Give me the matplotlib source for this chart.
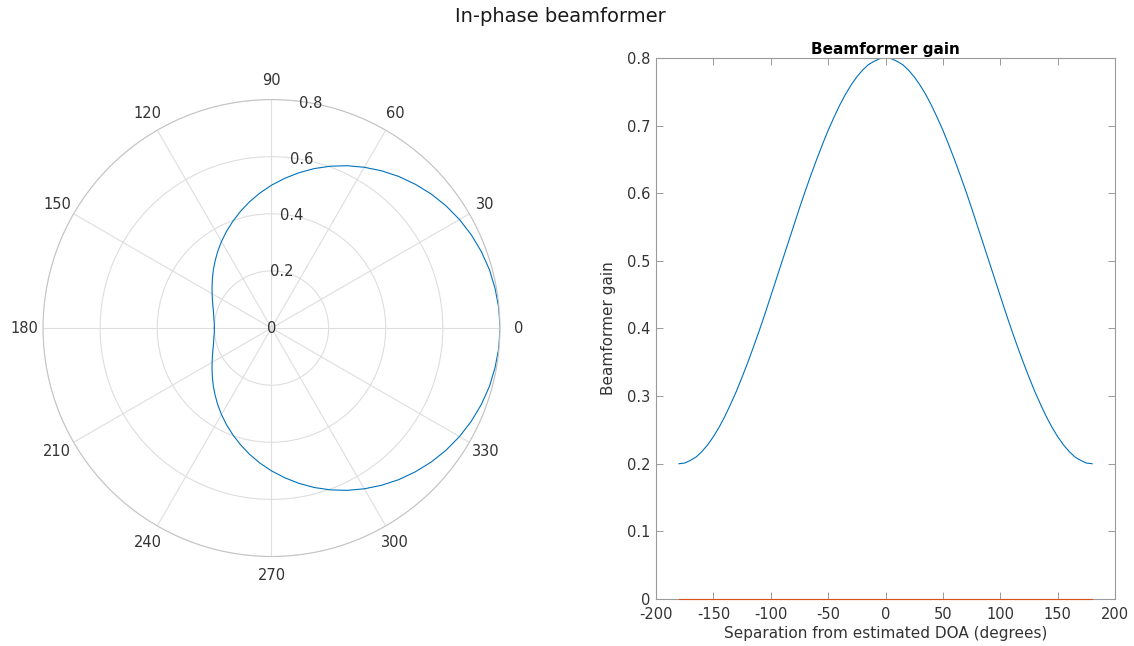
import numpy as np
import matplotlib
matplotlib.use("Agg")
import matplotlib.pyplot as plt

# gain, 0..180 degrees in 5 degree steps (symmetric)
angles_half = [0, 5, 10, 15, 20, 25, 30, 35, 40, 45, 50, 55, 60, 65, 70, 75, 80, 85, 90,
               95, 100, 105, 110, 115, 120, 125, 130, 135, 140, 145, 150, 155, 160, 165,
               170, 175, 180]
gain_half = [0.800, 0.799, 0.795, 0.790, 0.782, 0.772, 0.760, 0.746, 0.730, 0.712, 0.693,
             0.672, 0.650, 0.627, 0.603, 0.578, 0.552, 0.526, 0.500, 0.474, 0.448, 0.422,
             0.397, 0.373, 0.350, 0.328, 0.307, 0.288, 0.270, 0.254, 0.240, 0.228, 0.218,
             0.210, 0.205, 0.201, 0.200]

sep = [-a for a in angles_half[::-1]] + angles_half[1:]
gain = gain_half[::-1] + gain_half[1:]
zero_line = [0.0 for _ in sep]

r_ticks = [0, 0.2, 0.4, 0.6, 0.8]
r_labels = ["0", "0.2", "0.4", "0.6", "0.8"]
theta_ticks = list(range(0, 360, 30))
x_ticks = [-200, -150, -100, -50, 0, 50, 100, 150, 200]
y_ticks = [0, 0.1, 0.2, 0.3, 0.4, 0.5, 0.6, 0.7, 0.8]

line_col = "#0072BD"
line2_col = "#D95319"
txt_col = "#333333"
ax_col = "#9a9a9a"
plt.rcParams['font.family'] = 'DejaVu Sans'
plt.rcParams['font.size'] = 10
plt.rcParams['axes.unicode_minus'] = False

fig = plt.figure(figsize=(11.34, 6.46), dpi=100)
fig.text(0.494, 0.975, "In-phase beamformer", ha='center', va='center',
         fontsize=14, color='#1a1a1a')

# polar plot
axp = fig.add_axes([0.0379, 0.1385, 0.403, 0.7074], projection='polar')
axp.plot(np.deg2rad(sep), gain, color=line_col, lw=0.8)
axp.set_ylim(0, 0.8)
axp.set_yticks(r_ticks)
axp.set_yticklabels([])
for r, lab in zip(r_ticks, r_labels):
    axp.text(np.deg2rad(80), r, lab, ha='center', va='center', color=txt_col, fontsize=10.5)
axp.set_thetagrids(theta_ticks, [str(t) for t in theta_ticks], color=txt_col, fontsize=10.5)
axp.tick_params(axis='x', pad=3)
axp.grid(color="#dedede", lw=0.8)
axp.spines['polar'].set_color("#c4c4c4")

# cartesian plot
ax = fig.add_axes([0.5785, 0.0728, 0.4048, 0.8375])
ax.plot(sep, gain, color=line_col, lw=0.8)
ax.plot(sep, zero_line, color=line2_col, lw=0.8, zorder=5, clip_on=False)
ax.set_xlim(-200, 200)
ax.set_ylim(0, 0.8)
ax.set_xticks(x_ticks)
ax.set_yticks(y_ticks)
ax.set_yticklabels(["0", "0.1", "0.2", "0.3", "0.4", "0.5", "0.6", "0.7", "0.8"])
ax.tick_params(direction='in', top=True, right=True, labelcolor=txt_col, color=ax_col,
               length=5, width=0.7, labelsize=10.5, pad=4)
ax.tick_params(axis='x', pad=6)
for s in ax.spines.values():
    s.set_color(ax_col)
    s.set_linewidth(0.8)
ax.set_title("Beamformer gain", fontweight='bold', fontsize=11, pad=3, color='black')
ax.set_xlabel("Separation from estimated DOA (degrees)", fontsize=11, color=txt_col, labelpad=3)
ax.set_ylabel("Beamformer gain", fontsize=11, color=txt_col, labelpad=8)

fig.savefig("out.png", dpi=100)
